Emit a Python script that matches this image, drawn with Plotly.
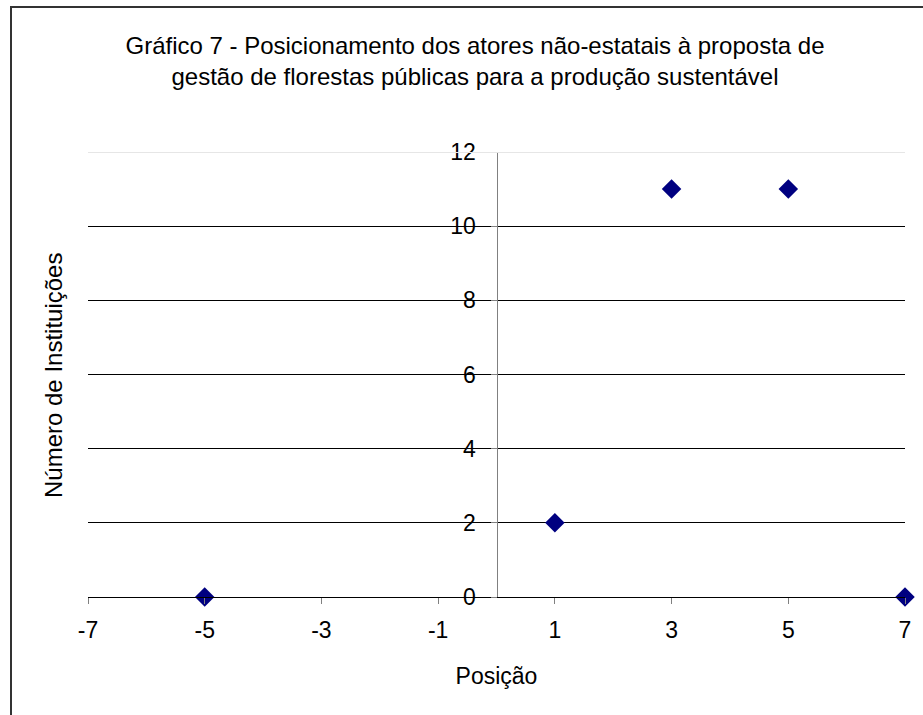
import plotly.graph_objects as go

# Positions on the scale and number of institutions at each one
posicao = [-5, 1, 3, 5, 7]
instituicoes = [0, 2, 11, 11, 0]

x_ticks = [-7, -5, -3, -1, 1, 3, 5, 7]
y_ticks = [0, 2, 4, 6, 8, 10, 12]

titulo = ("Gráfico 7 - Posicionamento dos atores não-estatais à proposta de<br>"
          "gestão de florestas públicas para a produção sustentável")

FONT = "Liberation Sans, Arial, sans-serif"

fig = go.Figure()
fig.add_trace(go.Scatter(
    x=posicao, y=instituicoes, mode="markers",
    marker=dict(symbol="diamond", size=15, color="#000080",
                line=dict(width=0)),
    cliponaxis=False, showlegend=False,
))

L, R, T, B = 88, 18, 152, 118
W, H = 923, 715
pw = W - L - R
ph = H - T - B

fig.update_layout(
    width=W, height=H,
    margin=dict(l=L, r=R, t=T, b=B),
    paper_bgcolor="white", plot_bgcolor="white",
    font=dict(family=FONT, size=23, color="black"),
    title=dict(text=titulo, x=(475 - L) / pw, xref="paper", xanchor="center",
               y=1 - 54 / H, yanchor="middle",
               font=dict(size=24)),
    xaxis=dict(
        range=[-7, 7], tickvals=x_ticks, ticktext=[str(v) for v in x_ticks],
        showgrid=False, zeroline=False,
        showline=True, linecolor="black", linewidth=1,
        ticks="outside", ticklen=6, tickcolor="#808080", tickwidth=1,
        ticklabelstandoff=6,
        tickfont=dict(size=23),
        title=dict(text="Posição", font=dict(size=23), standoff=26),
    ),
    yaxis=dict(
        range=[0, 12], tickvals=y_ticks, ticktext=[str(v) for v in y_ticks],
        anchor="free", position=0.5,
        showgrid=True, gridcolor="black", gridwidth=1,
        zeroline=False,
        showline=True, linecolor="#808080", linewidth=1,
        ticks="outside", ticklen=6, tickcolor="#808080", tickwidth=1,
        ticklabelstandoff=10,
        tickfont=dict(size=23),
        title=None,
    ),
    shapes=[
        # top gridline in light grey
        dict(type="line", xref="paper", yref="y", x0=0, x1=1, y0=12, y1=12,
             line=dict(color="#e6e6e6", width=2), layer="above"),
        # chart frame
        dict(type="rect", xref="paper", yref="paper",
             x0=(11 - L) / pw, x1=(940 - L) / pw,
             y0=(H - B - 730) / ph, y1=(H - B - 7) / ph,
             line=dict(color="#333333", width=2), layer="above"),
    ],
    annotations=[
        dict(text="Número de Instituições", textangle=-90,
             xref="paper", yref="paper",
             x=(53 - L) / pw, y=(H - B - 376) / ph,
             xanchor="center", yanchor="middle", showarrow=False,
             font=dict(size=24)),
    ],
)

fig.write_html("out.html")
